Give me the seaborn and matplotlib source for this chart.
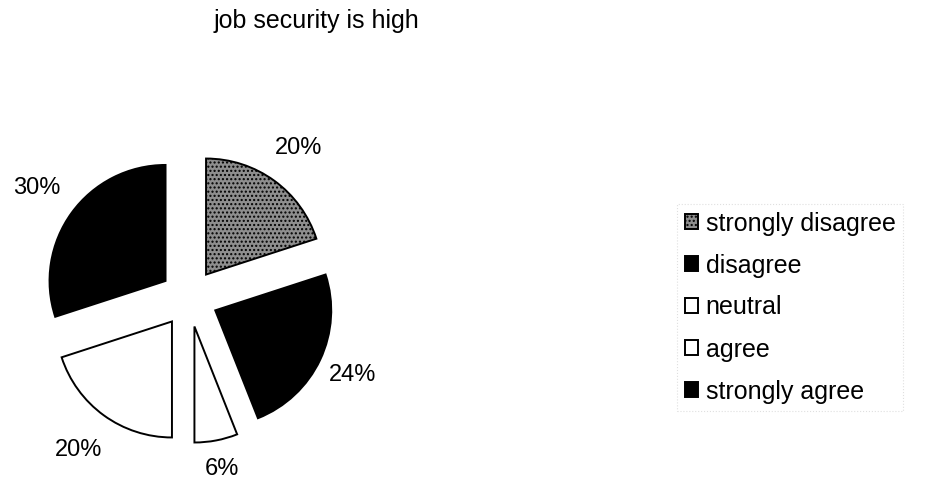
import matplotlib
matplotlib.use("Agg")
import matplotlib.pyplot as plt
import seaborn as sns
import numpy as np

categories = ["strongly disagree", "disagree", "neutral", "agree", "strongly agree"]
values = [20, 24, 6, 20, 30]
pct_labels = ["20%", "24%", "6%", "20%", "30%"]
title = "job security is high"

sns.set_theme(style="white")
plt.rcParams['font.family'] = ['Liberation Sans', 'DejaVu Sans']
plt.rcParams['text.color'] = 'black'

face_colors = ["#8e8e8e", "#000000", "#ffffff", "#ffffff", "#000000"]
hatches = ["....", None, None, None, None]
label_radii = [1.6, 1.56, 1.5, 1.62, 1.62]

fig = plt.figure(figsize=(9.25, 4.86), dpi=100)
W, H = 925, 486
cx, cy, r_px = 189, 298, 116
half = 1.55
side = 2 * half * r_px
ax = fig.add_axes([(cx - side / 2) / W, (H - cy - side / 2) / H, side / W, side / H])

wedges, _ = ax.pie(values, startangle=90, counterclock=False,
                   explode=[0.25] * len(values),
                   colors=face_colors,
                   wedgeprops=dict(edgecolor="black", linewidth=1.4))
for w, h in zip(wedges, hatches):
    if h:
        w.set_hatch(h)

for w, lab, d in zip(wedges, pct_labels, label_radii):
    ang = np.deg2rad((w.theta1 + w.theta2) / 2)
    ax.text(d * np.cos(ang), d * np.sin(ang), lab, ha="center", va="center",
            fontsize=17, color="black", clip_on=False)

ax.set_xlim(-half, half)
ax.set_ylim(-half, half)
ax.set_aspect("equal")
ax.axis("off")

fig.text(316 / W, 1 - 21 / H, title, ha="center", va="center", fontsize=18, color="black")

leg = fig.legend(wedges, categories, loc="upper left",
                 bbox_to_anchor=(677 / W, 1 - 204 / H),
                 fontsize=18, frameon=True, fancybox=False,
                 handlelength=0.55, handleheight=0.55, handletextpad=0.3,
                 labelspacing=0.72, borderpad=0.3, borderaxespad=0,
                 labelcolor="black")
frame = leg.get_frame()
frame.set_edgecolor("#d8d8d8")
frame.set_linestyle(":")
frame.set_linewidth(0.8)

fig.savefig("out.png", dpi=100, facecolor="white")
